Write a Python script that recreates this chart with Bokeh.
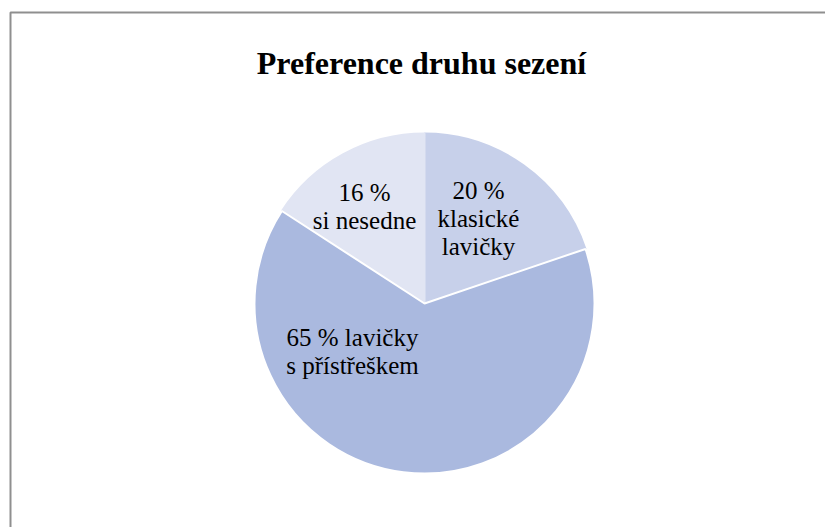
import math
from bokeh.plotting import figure
from bokeh.models import Range1d
from bokeh.core.properties import value
from bokeh.embed import file_html
from bokeh.resources import INLINE

# ---- data ----
title_text = "Preference druhu sezení"
categories = ["klasické lavičky", "lavičky s přístřeškem", "si nesedne"]
percent = [20, 65, 16]
label_lines = [["20 %", "klasické", "lavičky"],
               ["65 % lavičky", "s přístřeškem"],
               ["16 %", "si nesedne"]]
colors = ["#c7d0ea", "#aab9df", "#e1e5f3"]
edge_colors = ["#c7d0ea", "#ffffff", "#e1e5f3"]

SERIF = value("'Liberation Serif', 'Times New Roman', serif")

W, H = 825, 527
p = figure(width=W, height=H, output_backend="svg", toolbar_location=None,
           x_range=Range1d(0, W), y_range=Range1d(0, H), min_border=0)
p.axis.visible = False
p.grid.visible = False
p.outline_line_color = None
p.background_fill_color = "white"
p.border_fill_color = "white"

# chart area frame (left/top visible, continues past window)
p.multi_line(xs=[[10, 10, 2000]], ys=[[-100, 515, 515]], line_color="#8f8f8f", line_width=2)

cx, cy, r = 424, 224, 170
total = sum(percent)
starts, ends = [], []
a = math.pi / 2
for v in percent:
    starts.append(a)
    a -= v / total * 2 * math.pi
    ends.append(a)

# draw 65% last so its white edge shows
order = [0, 2, 1]
p.wedge(x=[cx] * 3, y=[cy] * 3, radius=r,
        start_angle=[starts[i] for i in order], end_angle=[ends[i] for i in order],
        direction="clock", fill_color=[colors[i] for i in order],
        line_color=[edge_colors[i] for i in order], line_width=2)

# label placement (offsets from pie centre, per slice: x centre, first baseline)
label_pos = [(54, 113), (-72, -34), (-60, 111)]
line_step = 28
xs, ys, ts = [], [], []
for (dx, dy), lines in zip(label_pos, label_lines):
    for k, t in enumerate(lines):
        xs.append(cx + dx)
        ys.append(cy + dy - k * line_step)
        ts.append(t)
p.text(x=xs, y=ys, text=ts, text_font=SERIF, text_font_size="25px",
       text_font_style="normal", text_align="center", text_baseline="alphabetic",
       text_color="#000000")

p.text(x=[421], y=[465], text=[title_text], text_font=SERIF,
       text_font_size="32px", text_font_style="bold", text_align="center",
       text_baseline="alphabetic", text_color="#000000")

open("out.html", "w").write(file_html(p, INLINE))
